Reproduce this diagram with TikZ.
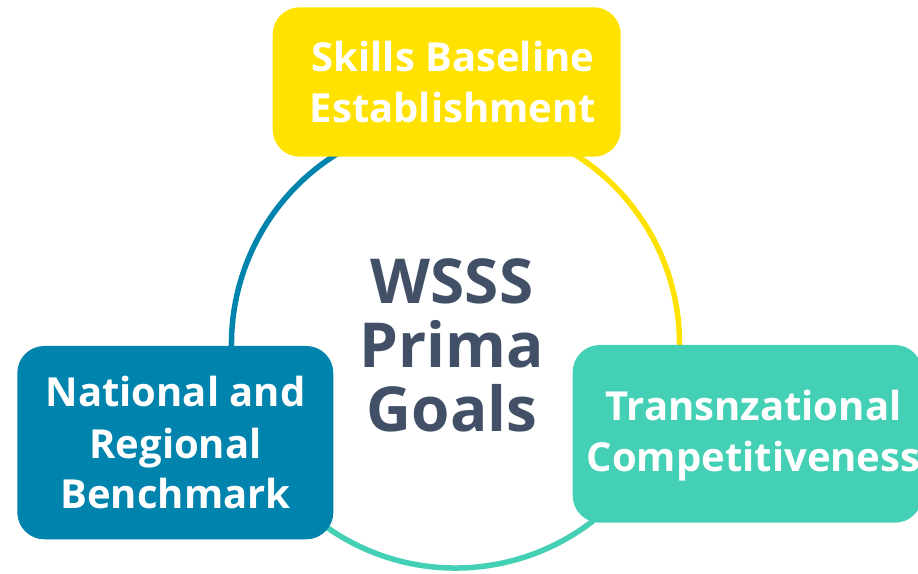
\documentclass[tikz,border=0pt]{standalone}
\usepackage{fontspec}
\setmainfont{Open Sans}
\definecolor{ylw}{HTML}{FFE200}
\definecolor{blu}{HTML}{0083AD}
\definecolor{mnt}{HTML}{43D0B4}
\definecolor{slate}{HTML}{415066}
\tikzset{
  goalbox/.style={rounded corners=27pt, inner sep=0pt},
  boxtext/.style={text=white, font=\fontsize{40}{51}\selectfont\bfseries, align=center, inner sep=0pt},
  ring/.style={line width=5.5pt}
}
\begin{document}
\begin{tikzpicture}[x=1pt,y=1pt]
\useasboundingbox (0,0) rectangle (918,573);
\clip (0,0) rectangle (918,573);
\coordinate (c) at (455.5,229);
\draw[ring, ylw] (c) ++(90:224) arc[start angle=90, end angle=-30, radius=224];
\draw[ring, mnt] (c) ++(-30:224) arc[start angle=-30, end angle=-150, radius=224];
\draw[ring, blu] (c) ++(-150:224) arc[start angle=-150, end angle=-270, radius=224];
\node[goalbox, fill=ylw, minimum width=348pt, minimum height=149.4pt] (skills) at (446.7,491) {};
\node[goalbox, fill=blu, minimum width=316pt, minimum height=193.3pt] (natl) at (175.3,130.35) {};
\node[goalbox, fill=mnt, minimum width=349.3pt, minimum height=177.7pt] (trans) at (747.35,139.15) {};
\node[boxtext] (skillst) at (453,491) {Skills Baseline\\Establishment};
\node[boxtext] (natlt) at (175.5,130) {National and\\Regional\\Benchmark};
\node[boxtext] (transt) at (753.5,137) {Transnzational\\Competitiveness};
\node[text=slate, font=\fontsize{62}{64}\selectfont\bfseries, align=center, inner sep=0pt] (goals) at (452,227.5) {WSSS\\Prima\\Goals};
\end{tikzpicture}
\end{document}
